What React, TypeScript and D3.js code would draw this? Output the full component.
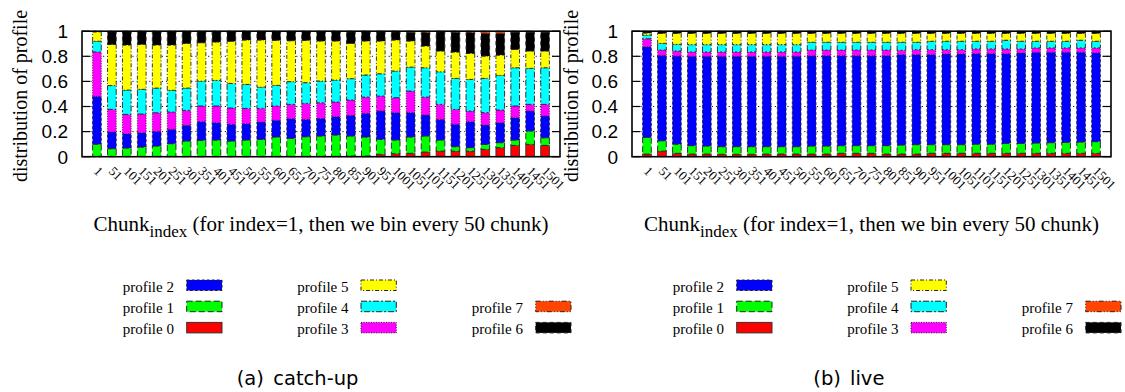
import React from "react";
import * as d3 from "d3";

// ---------- data ----------
const chunkLabels = ["1","51","101","151","201","251","301","351","401","451","501","551","601","651","701","751","801","851","901","951","1001","1051","1101","1151","1201","1251","1301","1351","1401","1451","1501"];
const yTickValues = [0, 0.2, 0.4, 0.6, 0.8, 1];
const yTickLabels = ["0", "0.2", "0.4", "0.6", "0.8", "1"];
const profileNames = ["profile 0","profile 1","profile 2","profile 3","profile 4","profile 5","profile 6","profile 7"];
const profileColors = ["#ff0000","#00ff00","#0000ff","#ff00ff","#00ffff","#ffff00","#000000","#ff4500"];
const profileDash = ["", "6,3", "3,2", "1,1.5", "6,2,2,2", "4,2,1,2", "4,3", "5,2,1,2,1,2"];

// (a) catch-up
const catchupP0 = [0,0,0,0,0,0,0,0,0,0,0,0,0,0,0,0,0,0.005,0.005,0.019,0.024,0.027,0.037,0.045,0.045,0.045,0.058,0.072,0.09,0.098,0.09];
const catchupP1 = [0.10,0.064,0.069,0.077,0.085,0.104,0.125,0.13,0.133,0.125,0.133,0.138,0.157,0.146,0.159,0.165,0.173,0.16,0.152,0.119,0.109,0.13,0.128,0.088,0.035,0.027,0.04,0.04,0.043,0.107,0.061];
const catchupP2 = [0.38,0.133,0.114,0.114,0.117,0.114,0.125,0.149,0.138,0.133,0.13,0.138,0.133,0.157,0.138,0.14,0.146,0.164,0.188,0.226,0.218,0.194,0.167,0.164,0.178,0.207,0.154,0.159,0.178,0.159,0.173];
const catchupP3 = [0.355,0.18,0.154,0.149,0.148,0.138,0.119,0.125,0.133,0.13,0.122,0.109,0.114,0.114,0.128,0.125,0.117,0.123,0.13,0.119,0.119,0.172,0.143,0.12,0.119,0.085,0.099,0.101,0.093,0.053,0.093];
const catchupP4 = [0.085,0.19,0.194,0.197,0.197,0.173,0.178,0.199,0.204,0.196,0.191,0.17,0.164,0.181,0.165,0.173,0.175,0.17,0.176,0.178,0.213,0.191,0.234,0.26,0.247,0.252,0.273,0.276,0.305,0.287,0.292];
const catchupP5 = [0.075,0.327,0.359,0.358,0.343,0.361,0.356,0.305,0.306,0.336,0.354,0.375,0.359,0.326,0.337,0.319,0.311,0.281,0.271,0.261,0.247,0.208,0.173,0.165,0.21,0.207,0.178,0.162,0.146,0.138,0.133];
const catchupP6 = [0.005,0.102,0.107,0.102,0.11,0.11,0.097,0.092,0.086,0.08,0.07,0.07,0.073,0.076,0.073,0.078,0.078,0.092,0.075,0.073,0.065,0.07,0.108,0.153,0.158,0.167,0.181,0.173,0.138,0.151,0.151];
const catchupP7 = [0,0.003,0.003,0.003,0,0,0,0,0,0,0,0,0,0,0,0,0,0.005,0.003,0.005,0.005,0.008,0.01,0.005,0.008,0.01,0.017,0.017,0.007,0.007,0.007];

// (b) live
const liveP0 = [0.021,0.045,0.027,0.021,0.021,0.019,0.019,0.019,0.021,0.021,0.021,0.021,0.021,0.027,0.027,0.027,0.021,0.021,0.021,0.027,0.027,0.027,0.027,0.027,0.027,0.027,0.027,0.027,0.027,0.027,0.027];
const liveP1 = [0.133,0.082,0.073,0.067,0.064,0.061,0.061,0.061,0.059,0.059,0.059,0.064,0.064,0.061,0.061,0.061,0.067,0.072,0.075,0.069,0.069,0.069,0.073,0.073,0.079,0.079,0.082,0.085,0.087,0.09,0.093];
const liveP2 = [0.722,0.68,0.702,0.712,0.715,0.72,0.72,0.72,0.72,0.72,0.72,0.72,0.72,0.717,0.717,0.717,0.717,0.72,0.717,0.717,0.723,0.723,0.721,0.721,0.715,0.721,0.723,0.72,0.718,0.715,0.707];
const liveP3 = [0.064,0.043,0.04,0.035,0.035,0.035,0.035,0.035,0.035,0.035,0.035,0.045,0.045,0.045,0.045,0.045,0.045,0.035,0.04,0.04,0.034,0.034,0.038,0.038,0.038,0.032,0.035,0.035,0.035,0.035,0.04];
const liveP4 = [0.03,0.053,0.053,0.058,0.058,0.058,0.058,0.058,0.058,0.058,0.058,0.062,0.062,0.062,0.062,0.062,0.062,0.064,0.059,0.067,0.067,0.067,0.061,0.061,0.069,0.061,0.053,0.053,0.053,0.061,0.053];
const liveP5 = [0.016,0.08,0.088,0.09,0.09,0.09,0.09,0.09,0.09,0.09,0.09,0.071,0.071,0.071,0.071,0.071,0.071,0.071,0.071,0.063,0.063,0.063,0.063,0.063,0.055,0.063,0.063,0.063,0.063,0.055,0.063];
const liveP6 = [0.014,0.017,0.017,0.017,0.017,0.017,0.017,0.017,0.017,0.017,0.017,0.017,0.017,0.017,0.017,0.017,0.017,0.017,0.017,0.017,0.017,0.017,0.017,0.017,0.017,0.017,0.017,0.017,0.017,0.017,0.017];
const liveP7 = [0,0,0,0,0,0,0,0,0,0,0,0,0,0,0,0,0,0,0,0,0,0,0,0,0,0,0,0,0,0,0];

const catchupSeries = [catchupP0, catchupP1, catchupP2, catchupP3, catchupP4, catchupP5, catchupP6, catchupP7];
const liveSeries = [liveP0, liveP1, liveP2, liveP3, liveP4, liveP5, liveP6, liveP7];

// legend arrangement (profile index, column, row)
const legendLayout = [
  { p: 2, col: 0, row: 0 }, { p: 1, col: 0, row: 1 }, { p: 0, col: 0, row: 2 },
  { p: 5, col: 1, row: 0 }, { p: 4, col: 1, row: 1 }, { p: 3, col: 1, row: 2 },
  { p: 7, col: 2, row: 1 }, { p: 6, col: 2, row: 2 },
];

// ---------- layout ----------
const W = 1125, H = 392;
const TOP = 31.2, BOTTOM = 156.7;
const SERIF = "'Liberation Serif', 'Times New Roman', serif";
const SANS = "'Liberation Sans', Arial, sans-serif";
const CAPFONT = "'DejaVu Sans', sans-serif";

type PanelProps = {
  x0: number; x1: number; series: number[][]; dx: number; yLabelX: number;
  capA: string; capB: string; capAX: number; capBX: number;
};

function Panel({ x0, x1, series, dx, yLabelX, capA, capB, capAX, capBX }: PanelProps) {
  const x = d3.scaleLinear().domain([-1, 31]).range([x0, x1]);
  const y = d3.scaleLinear().domain([0, 1]).range([BOTTOM, TOP]);
  const rows = chunkLabels.map((label, i) => {
    const r: Record<string, any> = { label };
    profileNames.forEach((n, j) => { r[n] = series[j][i]; });
    return r;
  });
  const stacked = d3.stack<any>().keys(profileNames)(rows);
  const bw = x(0.58) - x(0);
  const cx = (x0 + x1) / 2;
  const legTextX = [122.7 + dx, 297.3 + dx, 471.7 + dx];
  const legSwX = [186.7 + dx, 361 + dx, 535.7 + dx];
  const legRowY = (r: number) => 280 + 21.2 * r;

  return (
    <g>
      {/* grid */}
      {yTickValues.filter(v => v > 0 && v < 1).map(v => (
        <line key={"g" + v} x1={x0} x2={x1} y1={y(v)} y2={y(v)} stroke="#000" strokeWidth={0.9} strokeDasharray="1.2,3" />
      ))}
      {/* bars */}
      {stacked.map((layer, j) => (
        <g key={"l" + j}>
          {layer.map((d, i) => {
            const h = y(d[0]) - y(d[1]);
            if (h <= 0) return null;
            return (
              <rect key={i} x={x(i) - bw / 2} y={y(d[1])} width={bw} height={h}
                fill={profileColors[j]} stroke={j === 0 ? "#333" : "#222"} strokeWidth={0.9}
                strokeDasharray={profileDash[j] || undefined} />
            );
          })}
        </g>
      ))}
      {/* ticks */}
      {yTickValues.map((v, k) => (
        <g key={"t" + v}>
          <line x1={x0} x2={x0 + 8} y1={y(v)} y2={y(v)} stroke="#000" strokeWidth={1.2} />
          <line x1={x1 - 8} x2={x1} y1={y(v)} y2={y(v)} stroke="#000" strokeWidth={1.2} />
          <text x={x0 - 14} y={y(v)} dy="0.36em" textAnchor="end" fontFamily={SANS} fontSize={19}>{yTickLabels[k]}</text>
        </g>
      ))}
      {/* frame */}
      <rect x={x0} y={TOP} width={x1 - x0} height={BOTTOM - TOP} fill="none" stroke="#000" strokeWidth={1.6} />
      {/* x tick labels */}
      {chunkLabels.map((l, i) => (
        <text key={"x" + i} transform={`translate(${x(i) - 4},${172}) rotate(45)`} fontFamily={SERIF} fontSize={13}>{l}</text>
      ))}
      {/* axis titles */}
      <text transform={`translate(${yLabelX},${96}) rotate(-90)`} textAnchor="middle" fontFamily={SERIF} fontSize={20}>distribution of profile</text>
      <text x={cx} y={231} textAnchor="middle" fontFamily={SERIF} fontSize={21}>
        Chunk<tspan fontSize={17} dy={6}>index</tspan><tspan dy={-6}> (for index=1, then we bin every 50 chunk)</tspan>
      </text>
      {/* legend */}
      {legendLayout.map(e => (
        <g key={"k" + e.p}>
          <text x={legTextX[e.col]} y={legRowY(e.row) + 11.5} fontFamily={SERIF} fontSize={15}>{profileNames[e.p]}</text>
          <rect x={legSwX[e.col]} y={legRowY(e.row)} width={35.3} height={10.5}
            fill={profileColors[e.p]} stroke={e.p === 0 ? "#333" : "#222"} strokeWidth={1}
            strokeDasharray={profileDash[e.p] || undefined} />
        </g>
      ))}
      {/* caption */}
      <text x={capAX} y={385} fontFamily={CAPFONT} fontSize={19.5}>{capA}</text>
      <text x={capBX} y={385} fontFamily={CAPFONT} fontSize={19.5}>{capB}</text>
    </g>
  );
}

export default function App() {
  return (
    <svg width={W} height={H} style={{ position: "absolute", left: 0, top: 0, background: "#fff" }}>
      <rect x={0} y={0} width={W} height={H} fill="#fff" />
      <Panel x0={82} x1={560} series={catchupSeries} dx={0} yLabelX={27}
        capA="(a)" capB="catch-up" capAX={236.7} capBX={273.3} />
      <Panel x0={632} x1={1111} series={liveSeries} dx={550} yLabelX={578}
        capA="(b)" capB="live" capAX={813.3} capBX={850} />
    </svg>
  );
}
